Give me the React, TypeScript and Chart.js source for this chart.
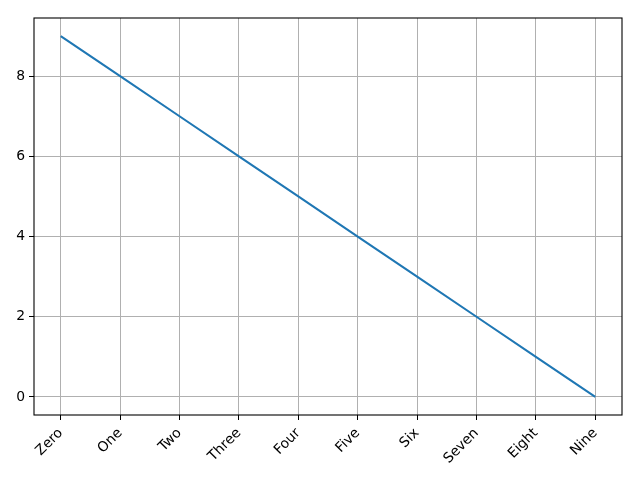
import React, { useEffect, useRef } from "react";
import { Chart, registerables } from "chart.js";

Chart.register(...registerables);

const categories = ["Zero", "One", "Two", "Three", "Four", "Five", "Six", "Seven", "Eight", "Nine"];
const values = [9, 8, 7, 6, 5, 4, 3, 2, 1, 0];
const yTicks = [0, 2, 4, 6, 8];

const frame = {
  id: "frame",
  afterDraw(chart: any) {
    const { ctx, chartArea: a } = chart;
    ctx.save();
    ctx.strokeStyle = "#000";
    ctx.lineWidth = 1.1;
    ctx.strokeRect(a.left, a.top, a.right - a.left, a.bottom - a.top);
    ctx.restore();
  },
};

export default function App() {
  const ref = useRef<HTMLCanvasElement>(null);
  useEffect(() => {
    const font = { family: "DejaVu Sans", size: 13.9 };
    const chart = new Chart(ref.current!, {
      type: "line",
      data: {
        datasets: [
          {
            data: values.map((v, i) => ({ x: i, y: v })),
            borderColor: "#1f77b4",
            borderWidth: 2.1,
            pointRadius: 0,
            fill: false,
            tension: 0,
          },
        ],
      },
      options: {
        animation: false,
        responsive: false,
        devicePixelRatio: 1,
        layout: { padding: { top: 18, right: 18, left: 0, bottom: 0 } },
        plugins: { legend: { display: false }, tooltip: { enabled: false } },
        scales: {
          x: {
            type: "linear",
            min: -0.45,
            max: categories.length - 1 + 0.45,
            afterFit(s: any) { s.height = 65; },
            grid: { color: "#b0b0b0", lineWidth: 1, tickColor: "#000", tickLength: 5 },
            border: { display: false },
            ticks: {
              stepSize: 1,
              includeBounds: false,
              autoSkip: false,
              minRotation: 45,
              maxRotation: 45,
              padding: 5,
              color: "#000",
              font,
              callback: (v: any) => (Number.isInteger(v) && categories[v] !== undefined ? categories[v] : ""),
            },
          },
          y: {
            min: -0.45,
            max: 9.45,
            afterFit(s: any) { s.width = 34; },
            grid: { color: "#b0b0b0", lineWidth: 1, tickColor: "#000", tickLength: 5 },
            border: { display: false },
            afterBuildTicks(s: any) { s.ticks = yTicks.map((v) => ({ value: v })); },
            ticks: { color: "#000", font, padding: 4, callback: (v: any) => String(v) },
          },
        },
      },
      plugins: [frame],
    });
    return () => chart.destroy();
  }, []);
  return (
    <div style={{ position: "fixed", left: 0, top: 0, width: 640, height: 480, background: "#fff" }}>
      <canvas ref={ref} width={640} height={480} style={{ width: 640, height: 480 }} />
    </div>
  );
}
